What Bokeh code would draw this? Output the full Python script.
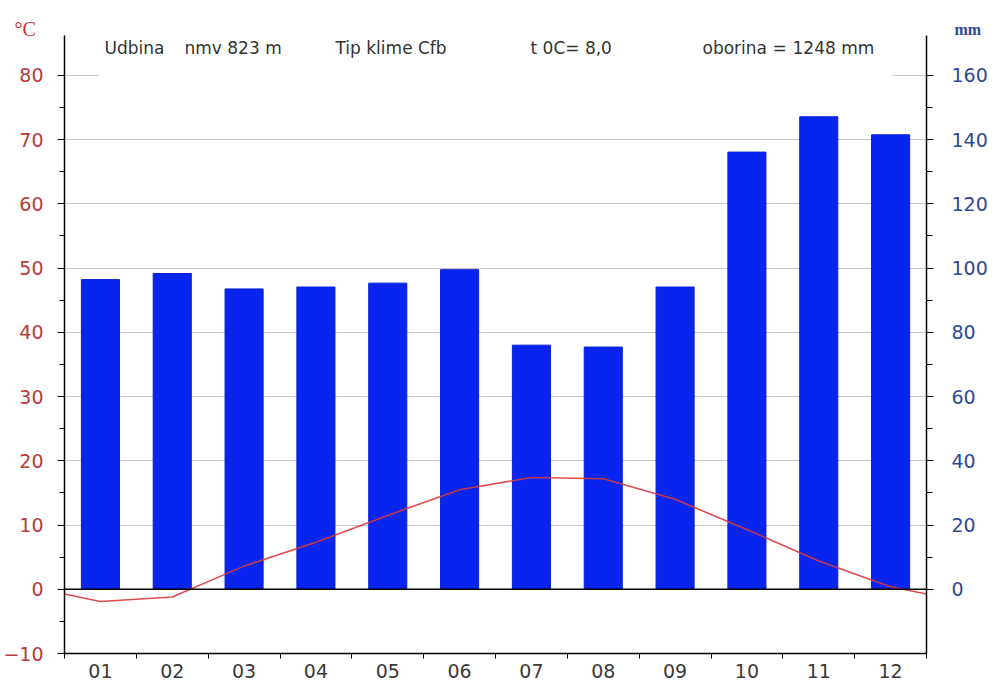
from bokeh.plotting import figure
from bokeh.models import (Range1d, LinearAxis, FixedTicker, Span, Label,
                          BoxAnnotation, Title)
from bokeh.embed import file_html
from bokeh.resources import INLINE

# ---- data ----
months = ["01", "02", "03", "04", "05", "06", "07", "08", "09", "10", "11", "12"]
temp_c = [-1.9, -1.2, 3.6, 7.3, 11.5, 15.5, 17.4, 17.2, 14.0, 9.3, 4.4, 0.4]
precip_mm = [96.4, 98.3, 93.5, 94.1, 95.3, 99.5, 76.0, 75.4, 94.1, 136.1, 147.1, 141.5]
temp_ticks = [-10, 0, 10, 20, 30, 40, 50, 60, 70, 80]
temp_minor = [-5, 5, 15, 25, 35, 45, 55, 65, 75]
precip_ticks = [0, 20, 40, 60, 80, 100, 120, 140, 160]
precip_minor = [10, 30, 50, 70, 90, 110, 130, 150]
header_texts = ["Udbina", "nmv 823 m", "Tip klime Cfb", "t 0C= 8,0", "oborina =", "1248 mm"]
header_x = [40, 120, 271, 466, 638, 728]  # screen offsets from frame left

TEMP_COLOR = "#b83a3c"
MM_COLOR = "#2d4a96"
FONT = "DejaVu Sans"

xs = list(range(1, len(months) + 1))

W, H = 990, 680
TOP, BOTTOM, LEFT, RIGHT = 35, 27, 62, 62
FRAME_H = H - TOP - BOTTOM

p = figure(width=W, height=H,
           x_range=Range1d(0.5, 12.5), y_range=Range1d(-10, 86.2),
           output_backend="svg", toolbar_location=None,
           min_border_left=LEFT, min_border_right=RIGHT,
           min_border_top=TOP, min_border_bottom=BOTTOM)
p.extra_y_ranges = {"mm": Range1d(-20, 172.4)}
p.outline_line_color = None
p.background_fill_color = "white"
p.border_fill_color = "white"

# grid
p.xgrid.visible = False
p.ygrid.ticker = FixedTicker(ticks=temp_ticks)
p.ygrid.grid_line_color = "#c8c8c8"
p.ygrid.grid_line_width = 1

# left axis
ly = p.yaxis[0]
ly.ticker = FixedTicker(ticks=temp_ticks, minor_ticks=temp_minor)
ly.axis_line_color = "black"
ly.axis_line_width = 1.5
ly.major_tick_line_color = "black"
ly.major_tick_out = 7
ly.major_tick_in = 0
ly.minor_tick_line_color = "black"
ly.minor_tick_out = 5
ly.minor_tick_in = 0
ly.major_label_text_color = TEMP_COLOR
ly.major_label_text_font = FONT
ly.major_label_text_font_size = "19px"
ly.major_label_standoff = 14

# right axis
ry = LinearAxis(y_range_name="mm",
                ticker=FixedTicker(ticks=precip_ticks, minor_ticks=precip_minor))
ry.axis_line_color = "black"
ry.axis_line_width = 1.5
ry.major_tick_line_color = "black"
ry.major_tick_out = 7
ry.major_tick_in = 0
ry.minor_tick_line_color = "black"
ry.minor_tick_out = 6
ry.minor_tick_in = 0
ry.major_label_text_color = MM_COLOR
ry.major_label_text_font = FONT
ry.major_label_text_font_size = "19px"
ry.major_label_standoff = 18
p.add_layout(ry, "right")

# bottom axis: labels at month centres, ticks at month boundaries
bx = p.xaxis[0]
bx.ticker = FixedTicker(ticks=xs, minor_ticks=[x - 0.5 for x in xs] + [xs[-1] + 0.5])
bx.major_label_overrides = {x: m for x, m in zip(xs, months)}
bx.major_tick_line_color = None
bx.major_tick_out = 0
bx.major_tick_in = 0
bx.minor_tick_line_color = "black"
bx.minor_tick_out = 5
bx.minor_tick_in = 0
bx.axis_line_color = "black"
bx.axis_line_width = 1.5
bx.major_label_text_color = "#3a3a3a"
bx.major_label_text_font = FONT
bx.major_label_text_font_size = "19px"
bx.major_label_standoff = 5

# unit titles above the frame
p.add_layout(Title(text="mm", align="left", offset=890, standoff=-5,
                   text_color=MM_COLOR, text_font="Liberation Serif",
                   text_font_style="bold", text_font_size="16px"), "above")
p.add_layout(Title(text="°C", align="left", offset=-50, standoff=-36,
                   text_color="#c83030", text_font="Liberation Serif",
                   text_font_style="normal", text_font_size="20px"), "above")

# header white band hiding the top gridline
p.add_layout(BoxAnnotation(left=34, right=828, left_units="screen", right_units="screen",
                           bottom=77, top=83, fill_color="white", fill_alpha=1,
                           line_color=None))

# bars
p.vbar(x=xs, top=precip_mm, bottom=0, width=0.53, y_range_name="mm",
       fill_color="#0725ef", line_color="#0a1fd8", line_width=1)

# zero line
p.add_layout(Span(location=0, dimension="width", line_color="black", line_width=1.5))

# temperature line, extended to frame edges with the Dec/Jan mean
edge = (temp_c[0] + temp_c[-1]) / 2
p.line(x=[0.5] + xs + [12.5], y=[edge] + temp_c + [edge],
       line_color="#d8383a", line_width=1.6, line_alpha=0.9)

# header texts
for t, hx in zip(header_texts, header_x):
    p.add_layout(Label(x=hx, x_units="screen", y=FRAME_H - 12, y_units="screen", text=t,
                       text_align="left", text_baseline="alphabetic",
                       text_color="#333333", text_font=FONT, text_font_size="17px"))

open("out.html", "w").write(file_html(p, INLINE))
